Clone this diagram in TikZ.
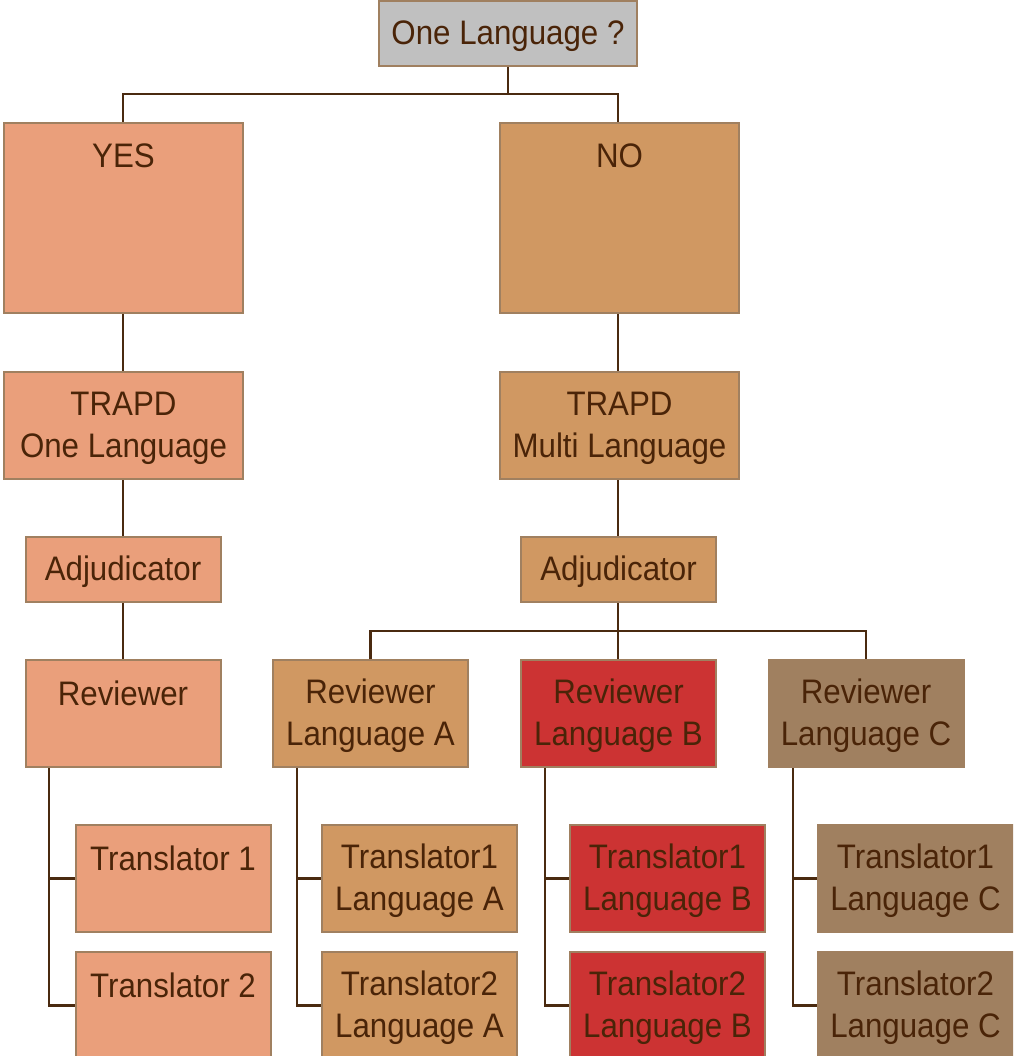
\documentclass[tikz,border=0pt]{standalone}
\usepackage{fontspec}
\setmainfont{Liberation Sans}[FakeStretch=0.92]
\definecolor{txtc}{HTML}{4A2408}
\definecolor{linec}{HTML}{4A2A10}
\definecolor{bordc}{HTML}{A08060}
\definecolor{grayf}{HTML}{C0C0C0}
\definecolor{salmonf}{HTML}{EA9F7B}
\definecolor{tanf}{HTML}{D09862}
\definecolor{redf}{HTML}{CC3333}
\definecolor{brownf}{HTML}{A08060}
\tikzset{
  box/.style={draw=bordc, line width=2pt, inner sep=0pt},
  txt/.style={inner sep=0pt, text=txtc, align=center, font=\fontsize{34}{42}\selectfont},
  ctext/.style={label={[txt,yshift=-2.5pt]center:#1}},
  conn/.style={draw=linec, line width=2.2pt},
  wbig/.style={minimum width=239pt},
  wmid/.style={minimum width=195pt},
}
\begin{document}
\begin{tikzpicture}[x=1pt,y=-1pt]
\useasboundingbox (0,0) rectangle (1013,1056);
\fill[white] (0,0) rectangle (1013,1056);
\clip (0,0) rectangle (1013,1056);

% top connector
\draw[conn] (508,66) -- (508,94);
\draw[conn] (123,123) -- (123,94) -- (618,94) -- (618,123);

% boxes
\node[box, fill=grayf, minimum width=258pt, minimum height=65pt, ctext={One Language ?}] (top) at (508,33.5) {};

\node[box, fill=salmonf, wbig, minimum height=190pt] (yes) at (123.5,218) {};
\node[txt, anchor=north] (yest) at ([yshift=-22pt]yes.north) {YES};
\node[box, fill=tanf, wbig, minimum height=190pt] (no) at (619.5,218) {};
\node[txt, anchor=north] (not) at ([yshift=-22pt]no.north) {NO};

\node[box, fill=salmonf, wbig, minimum height=107pt, ctext={TRAPD\\One Language}] (tr1) at (123.5,425.5) {};
\node[box, fill=tanf, wbig, minimum height=107pt, ctext={TRAPD\\Multi Language}] (tr2) at (619.5,425.5) {};

\node[box, fill=salmonf, wmid, minimum height=65pt, ctext={Adjudicator}] (adj1) at (123,569.5) {};
\node[box, fill=tanf, wmid, minimum height=65pt, ctext={Adjudicator}] (adj2) at (618.5,569.5) {};

\node[box, fill=salmonf, wmid, minimum height=107pt] (rev0) at (123,713.5) {};
\node[txt, anchor=north] (rev0t) at ([yshift=-22pt]rev0.north) {Reviewer};
\node[box, fill=tanf, wmid, minimum height=107pt, ctext={Reviewer\\Language A}] (revA) at (370.5,713.5) {};
\node[box, fill=redf, wmid, minimum height=107pt, ctext={Reviewer\\Language B}] (revB) at (618.5,713.5) {};
\node[box, fill=brownf, wmid, minimum height=107pt, ctext={Reviewer\\Language C}] (revC) at (866,713.5) {};

\node[box, fill=salmonf, wmid, minimum height=107pt] (t01) at (173,878.5) {};
\node[txt, anchor=north] (t01t) at ([yshift=-22pt]t01.north) {Translator 1};
\node[box, fill=salmonf, wmid, minimum height=107pt] (t02) at (173,1005.5) {};
\node[txt, anchor=north] (t02t) at ([yshift=-22pt]t02.north) {Translator 2};

\node[box, fill=tanf, wmid, minimum height=107pt, ctext={Translator1\\Language A}] (tA1) at (419.5,878.5) {};
\node[box, fill=tanf, wmid, minimum height=107pt, ctext={Translator2\\Language A}] (tA2) at (419.5,1005.5) {};
\node[box, fill=redf, wmid, minimum height=107pt, ctext={Translator1\\Language B}] (tB1) at (667.5,878.5) {};
\node[box, fill=redf, wmid, minimum height=107pt, ctext={Translator2\\Language B}] (tB2) at (667.5,1005.5) {};
\node[box, fill=brownf, wmid, minimum height=107pt, ctext={Translator1\\Language C}] (tC1) at (915.5,878.5) {};
\node[box, fill=brownf, wmid, minimum height=107pt, ctext={Translator2\\Language C}] (tC2) at (915.5,1005.5) {};

% vertical chain connectors
\draw[conn] (yes.south -| 123,0) -- (tr1.north -| 123,0);
\draw[conn] (tr1.south -| 123,0) -- (adj1.north -| 123,0);
\draw[conn] (adj1.south -| 123,0) -- (rev0.north -| 123,0);
\draw[conn] (no.south -| 618,0) -- (tr2.north -| 618,0);
\draw[conn] (tr2.south -| 618,0) -- (adj2.north -| 618,0);

% reviewer bus
\draw[conn] (adj2.south -| 618,0) -- (618,631);
\draw[conn] (revA.north) -- (revA.north |- 0,631) -- (revC.north |- 0,631) -- (revC.north);
\draw[conn] (618,631) -- (revB.north -| 618,0);

% translator trunks
\draw[conn] (rev0.south -| 49,0) -- (49,1005.5) -- (t02.west);
\draw[conn] (49,878.5) -- (t01.west);
\draw[conn] (revA.south -| 297,0) -- (297,1005.5) -- (tA2.west);
\draw[conn] (297,878.5) -- (tA1.west);
\draw[conn] (revB.south -| 545,0) -- (545,1005.5) -- (tB2.west);
\draw[conn] (545,878.5) -- (tB1.west);
\draw[conn] (revC.south -| 793,0) -- (793,1005.5) -- (tC2.west);
\draw[conn] (793,878.5) -- (tC1.west);
\end{tikzpicture}
\end{document}
